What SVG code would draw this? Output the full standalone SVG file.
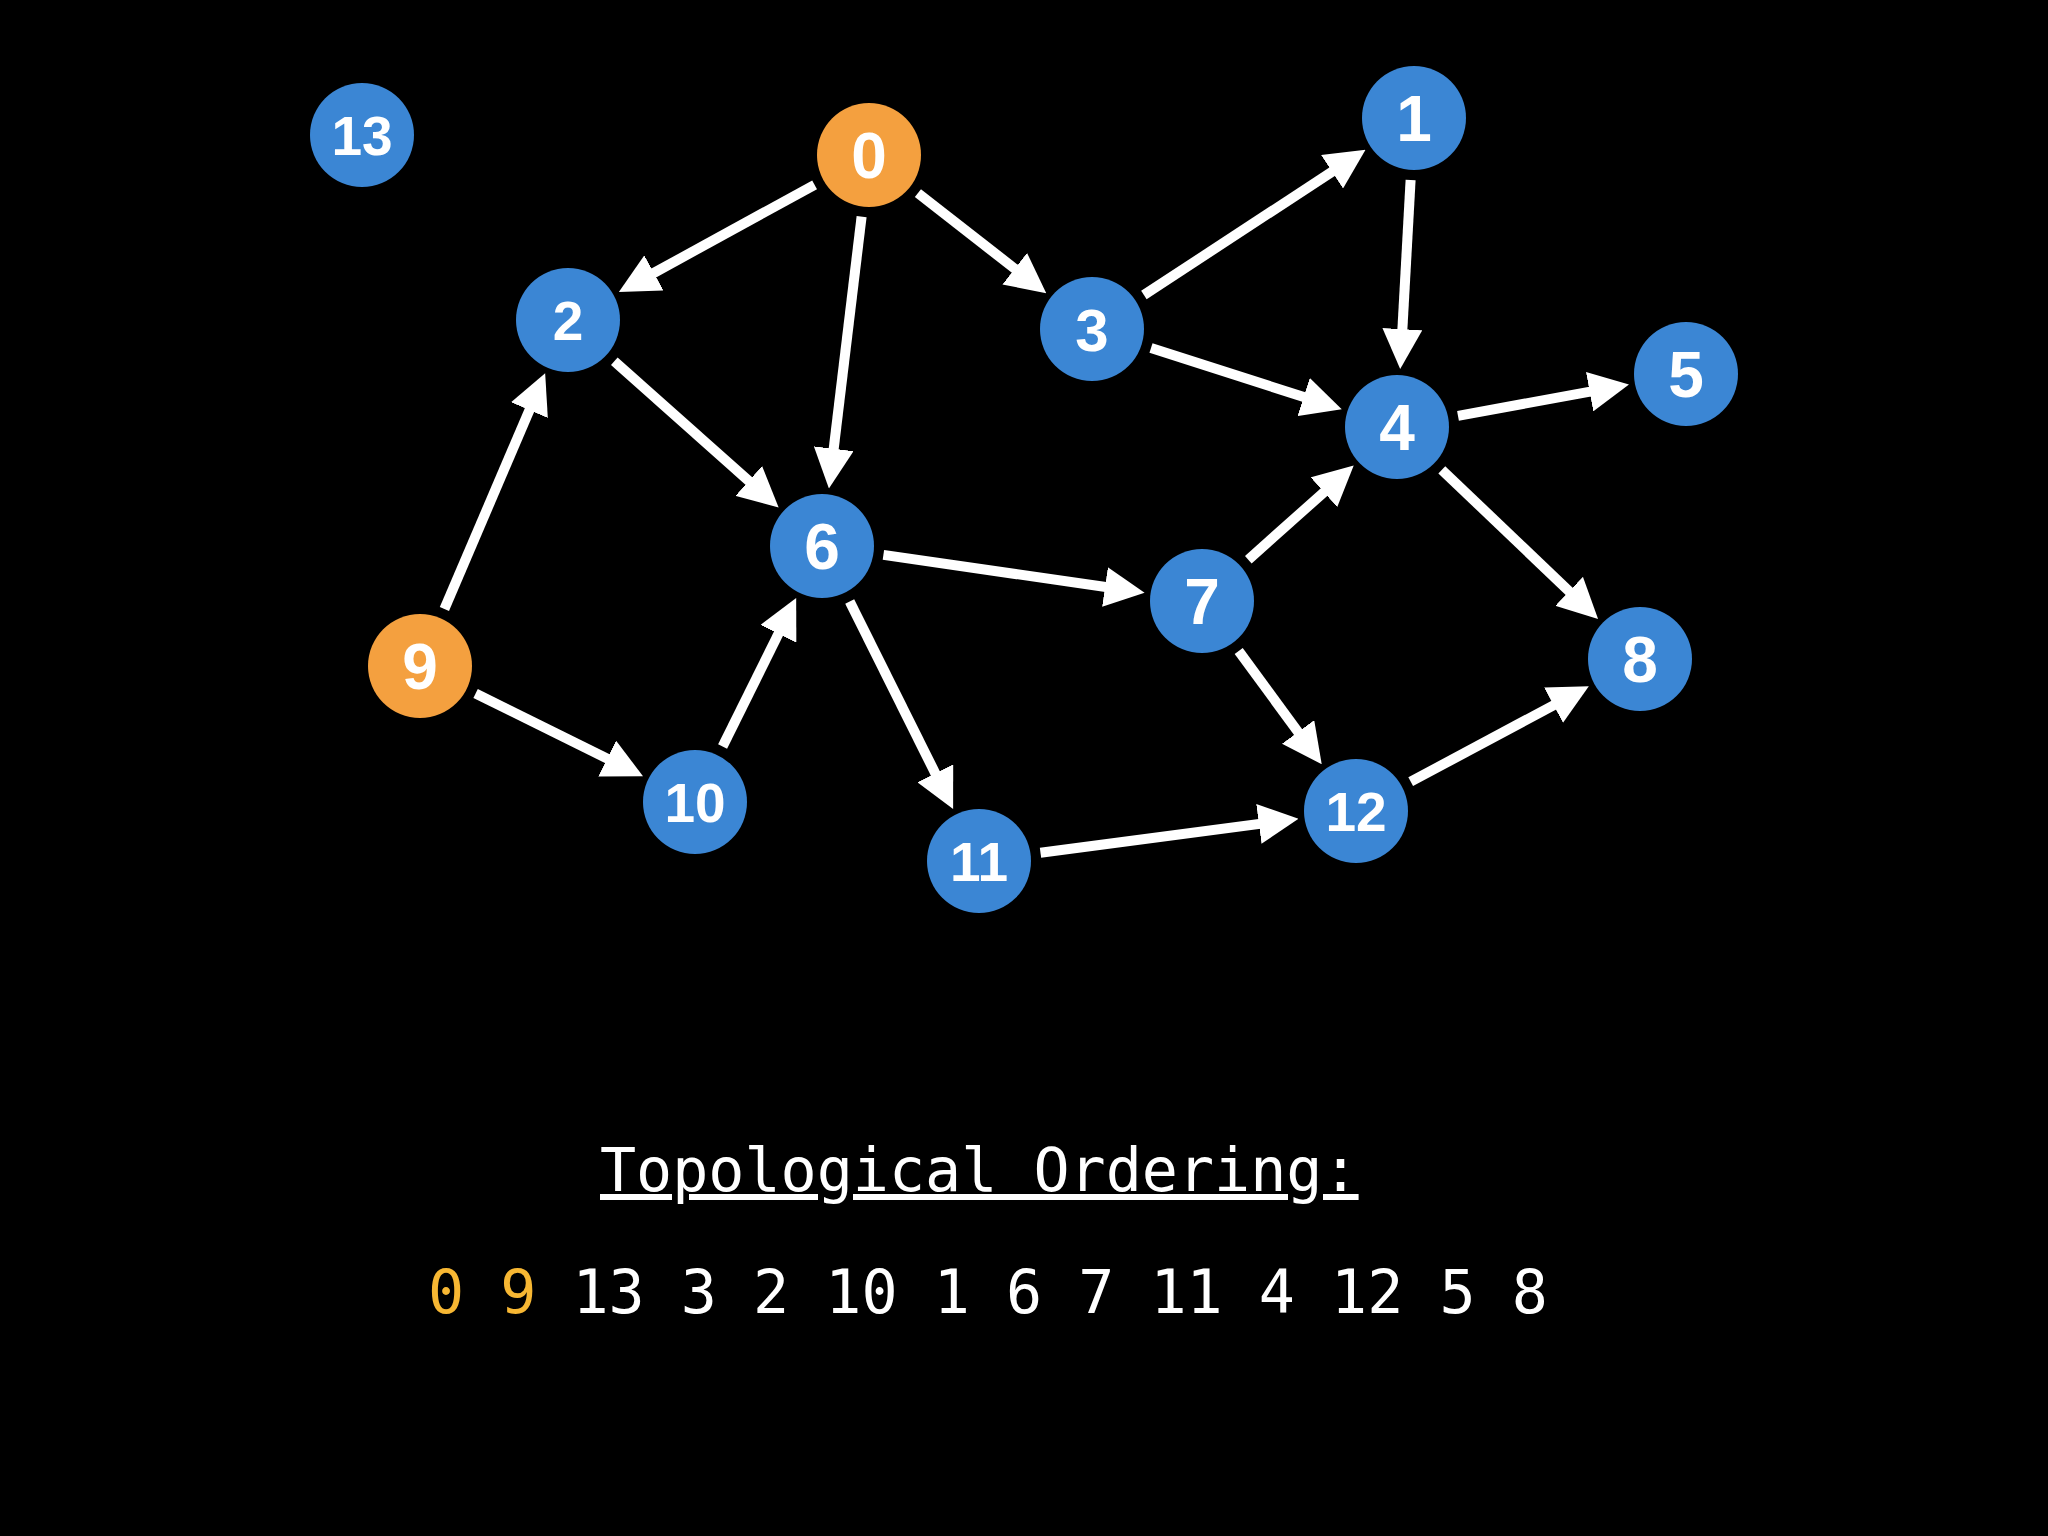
<svg xmlns="http://www.w3.org/2000/svg" width="2048" height="1536" viewBox="0 0 2048 1536">
<style>
.n circle{fill:#3b86d4}
.n.o circle{fill:#f4a03f}
.n text{font-family:"Liberation Sans",Arial,sans-serif;font-weight:bold;fill:#fff;text-anchor:middle;font-size:64px}
.n text.s{font-size:55px}
.e line{stroke:#fff;stroke-width:10;marker-end:url(#ah)}
.mono{font-family:"DejaVu Sans Mono",monospace;font-size:60px;fill:#fff}
</style>
<defs>
<marker id="ah" markerUnits="userSpaceOnUse" markerWidth="40" markerHeight="40" refX="20" refY="20" orient="auto" viewBox="0 0 40 40">
<path d="M0,0 L40,20 L0,40 z" fill="#fff"/>
</marker>
</defs>
<rect width="2048" height="1536" fill="#000"/>
<g id="edges" class="e">
<line x1="814.6" y1="184.8" x2="636.4" y2="282.5"/>
<line x1="861.6" y1="216.6" x2="831.3" y2="468.6"/>
<line x1="917.9" y1="193.1" x2="1030.5" y2="281"/>
<line x1="1143.9" y1="295" x2="1348.8" y2="160.8"/>
<line x1="1410.6" y1="179.9" x2="1401.3" y2="349.1"/>
<line x1="1151" y1="348" x2="1322.7" y2="403.1"/>
<line x1="1458" y1="415.8" x2="1609.3" y2="388.1"/>
<line x1="1441.8" y1="469.8" x2="1583.6" y2="605.1"/>
<line x1="614.3" y1="361.2" x2="763.7" y2="494.2"/>
<line x1="444.4" y1="609" x2="537.3" y2="391.7"/>
<line x1="475.6" y1="693.5" x2="625.1" y2="767.4"/>
<line x1="722.6" y1="746.5" x2="787.3" y2="615.9"/>
<line x1="883.4" y1="554.9" x2="1124.8" y2="589.8"/>
<line x1="849.7" y1="601.5" x2="944.2" y2="791.2"/>
<line x1="1248.3" y1="559.7" x2="1338.8" y2="478.9"/>
<line x1="1238.7" y1="651" x2="1309.9" y2="748.1"/>
<line x1="1040.5" y1="852.8" x2="1278.7" y2="821.3"/>
<line x1="1410.7" y1="781.7" x2="1571.2" y2="695.8"/>
</g>
<g id="node13" class="n"><circle cx="362" cy="135" r="52"/><text class="s" x="362" y="155">13</text></g>
<g id="node0" class="n o"><circle cx="869" cy="155" r="52"/><text x="869" y="178">0</text></g>
<g id="node1" class="n"><circle cx="1414" cy="118" r="52"/><text x="1414" y="141">1</text></g>
<g id="node2" class="n"><circle cx="568" cy="320" r="52"/><text x="568" y="340" style="font-size:55px">2</text></g>
<g id="node3" class="n"><circle cx="1092" cy="329" r="52"/><text x="1092" y="351" style="font-size:60px">3</text></g>
<g id="node4" class="n"><circle cx="1397" cy="427" r="52"/><text x="1397" y="450">4</text></g>
<g id="node5" class="n"><circle cx="1686" cy="374" r="52"/><text x="1686" y="397">5</text></g>
<g id="node6" class="n"><circle cx="822" cy="546" r="52"/><text x="822" y="569">6</text></g>
<g id="node7" class="n"><circle cx="1202" cy="601" r="52"/><text x="1202" y="624">7</text></g>
<g id="node8" class="n"><circle cx="1640" cy="659" r="52"/><text x="1640" y="682">8</text></g>
<g id="node9" class="n o"><circle cx="420" cy="666" r="52"/><text x="420" y="689">9</text></g>
<g id="node10" class="n"><circle cx="695" cy="802" r="52"/><text class="s" x="695" y="822">10</text></g>
<g id="node11" class="n"><circle cx="979" cy="861" r="52"/><text class="s" x="979" y="881">11</text></g>
<g id="node12" class="n"><circle cx="1356" cy="811" r="52"/><text class="s" x="1356" y="831">12</text></g>
<g id="ordering">
<text class="mono" x="600" y="1191" text-decoration="underline">Topological Ordering:</text>
<text class="mono" x="428" y="1313" xml:space="preserve"><tspan fill="#f7b733">0 9</tspan> 13 3 2 10 1 6 7 11 4 12 5 8</text>
</g>
</svg>
